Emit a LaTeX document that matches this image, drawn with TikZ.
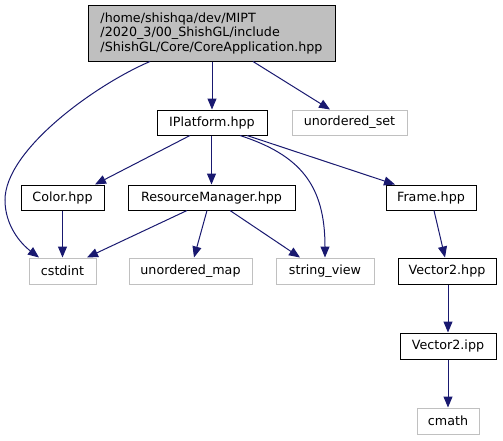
\documentclass[tikz,border=0pt]{standalone}
\usepackage{fontspec}
\setmainfont{DejaVu Sans}
\usetikzlibrary{arrows.meta}
\definecolor{edgec}{HTML}{191970}
\definecolor{sysgray}{HTML}{C0C0C0}
\definecolor{topfill}{HTML}{BFBFBF}
\begin{document}
\begin{tikzpicture}[x=1pt,y=1pt,
  filebox/.style={draw=black, line width=1pt, inner sep=0pt, minimum height=25pt, font=\fontsize{12.7}{14.5}\selectfont},
  sysbox/.style={draw=sysgray, line width=1pt, inner sep=0pt, minimum height=26pt, font=\fontsize{12.7}{14.5}\selectfont},
  dep/.style={draw=edgec, line width=1pt, -{Triangle[length=11pt,width=9pt]}, edgec}]
\useasboundingbox (0,0) rectangle (503,-440);
\node[filebox, fill=topfill, minimum width=247pt, minimum height=56pt, align=left] (top) at (211.5,-33) {/home/shishqa/dev/MIPT\\/2020\_3/00\_ShishGL/include\\/ShishGL/Core/CoreApplication.hpp};
\node[filebox, minimum width=110pt] (ipl) at (212,-122.5) {IPlatform.hpp};
\node[sysbox, minimum width=115pt, minimum height=25pt] (uset) at (349.5,-122.5) {unordered\_set};
\node[filebox, minimum width=83pt] (color) at (62.5,-197.5) {Color.hpp};
\node[filebox, minimum width=167pt] (rm) at (211.5,-197.5) {ResourceManager.hpp};
\node[filebox, minimum width=90pt] (frame) at (431,-197.5) {Frame.hpp};
\node[sysbox, minimum width=67pt] (cstdint) at (62.5,-271) {cstdint};
\node[sysbox, minimum width=123pt] (umap) at (190.5,-271) {unordered\_map};
\node[sysbox, minimum width=98pt] (sview) at (325,-271) {string\_view};
\node[filebox, minimum width=98pt, minimum height=26pt] (v2h) at (447,-271) {Vector2.hpp};
\node[filebox, minimum width=96pt, minimum height=26pt] (v2i) at (448,-346) {Vector2.ipp};
\node[sysbox, minimum width=62pt] (cmath) at (448,-421) {cmath};
% edges
\coordinate (bend) at (5,-200);
\draw[dep] ([xshift=-61.5pt]top.south) .. controls (95,-85) and (5,-150) .. (bend) .. controls (5,-225) and (20,-243) .. ([xshift=-23.5pt]cstdint.north);
\draw[dep] (ipl.north |- top.south) -- (ipl.north);
\draw[dep] ([xshift=41.5pt]top.south) -- ([xshift=-19.5pt]uset.north);
\draw[dep] ([xshift=-22pt]ipl.south) -- ([xshift=32.5pt]color.north);
\draw[dep] (rm.north |- ipl.south) -- (rm.north);
\draw[dep] ([xshift=28pt]ipl.south) .. controls (300,-155) and (325,-185) .. (sview.north);
\draw[dep] ([xshift=35pt]ipl.south) -- ([xshift=-36pt]frame.north);
\draw[dep] ([xshift=-24.5pt]rm.south) -- ([xshift=24.5pt]cstdint.north);
\draw[dep] ([xshift=-4.5pt]rm.south) -- ([xshift=3.5pt]umap.north);
\draw[dep] ([xshift=18.5pt]rm.south) -- ([xshift=-25pt]sview.north);
\draw[dep] (color.south) -- (cstdint.north);
\draw[dep] ([xshift=3pt]frame.south) -- ([xshift=-2pt]v2h.north);
\draw[dep] (v2i.north |- v2h.south) -- (v2i.north);
\draw[dep] (v2i.south) -- (cmath.north);
\end{tikzpicture}
\end{document}
